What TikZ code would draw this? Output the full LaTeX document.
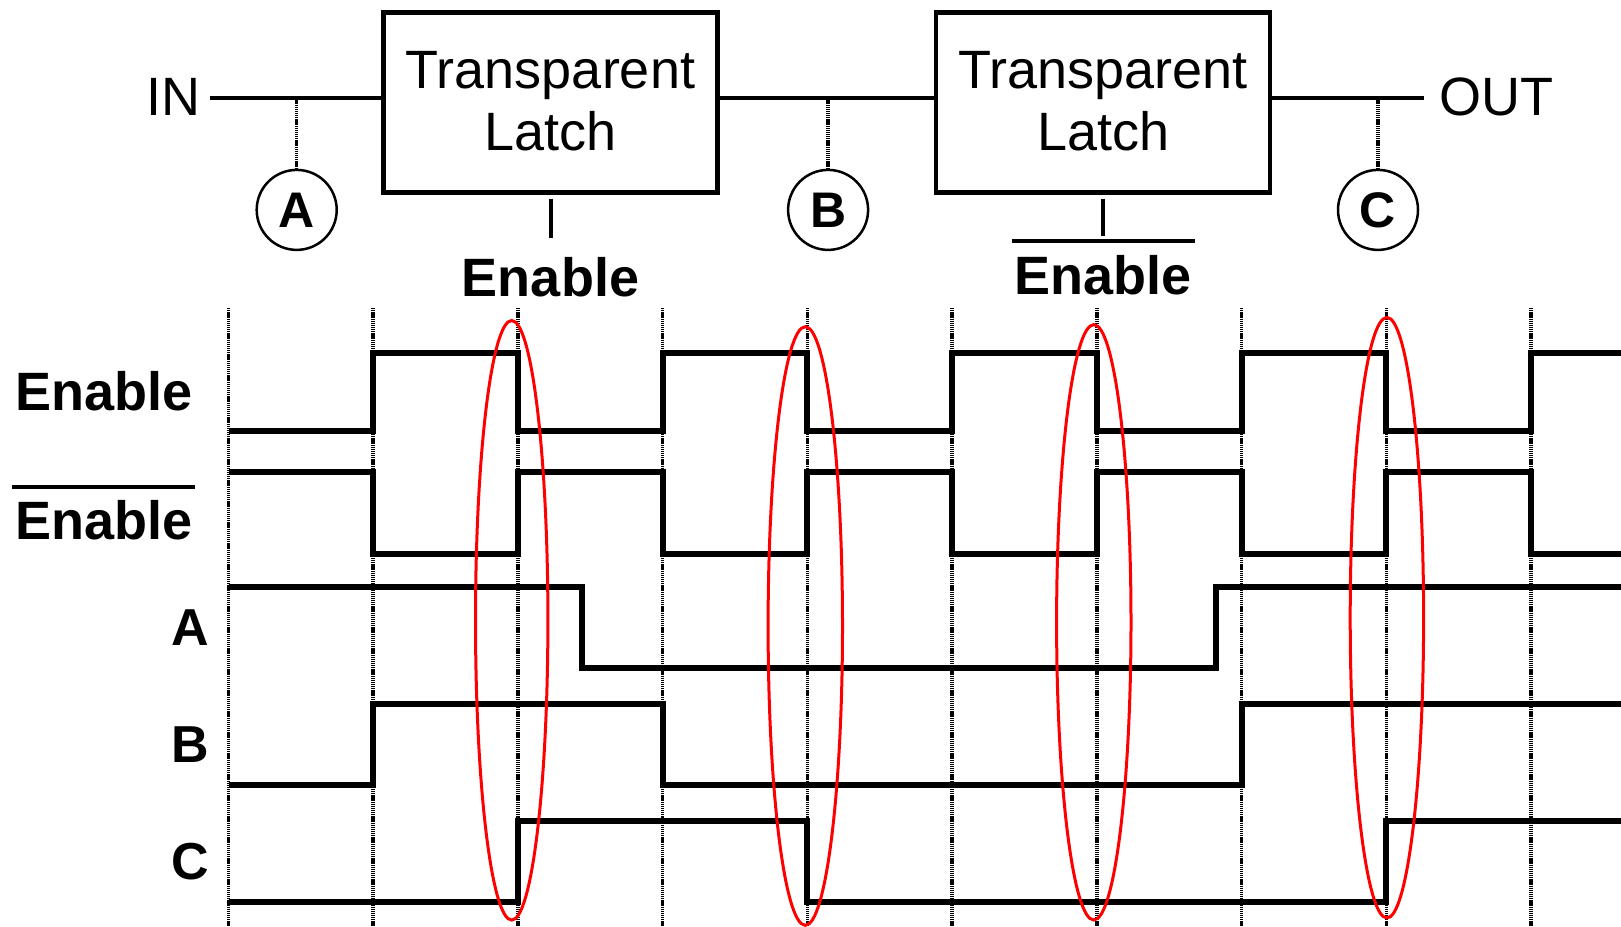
\documentclass[tikz,border=0pt]{standalone}
\usepackage{fontspec}
\setmainfont{Liberation Sans}
\begin{document}
\begin{tikzpicture}[x=1pt,y=-1pt,
  txt/.style={inner sep=0pt, font=\fontsize{54}{62}\selectfont},
  btxt/.style={inner sep=0pt, font=\fontsize{54}{62}\selectfont\bfseries},
  sig/.style={inner sep=0pt, font=\fontsize{52}{60}\selectfont\bfseries},
  wire/.style={line width=4pt},
  latchbox/.style={draw, line width=4.5pt, minimum width=334pt, minimum height=180pt, inner sep=0pt},
  probe/.style={line width=3.5pt, dash pattern=on 1.3pt off 0.8pt},
  tap/.style={draw, circle, line width=2.5pt, minimum size=80pt, inner sep=0pt, font=\fontsize{50}{50}\selectfont\bfseries},
  wave/.style={line width=6pt, line join=miter},
  ring/.style={draw=red, line width=3pt}]
\useasboundingbox (0,0) rectangle (1621,926);

% ---------- circuit ----------
\node[txt] (in) at (173.5,96.5) {IN};
\node[txt] (out) at (1496.4,96.5) {OUT};
\node[latchbox] (latch1) at (550.5,102.35) {};
\node[latchbox] (latch2) at (1103.1,102.35) {};
\node[txt, anchor=base] (l1a) at (550.5,88.7) {Transparent};
\node[txt, anchor=base] (l1b) at (550.5,150.7) {Latch};
\node[txt, anchor=base] (l2a) at (1103.1,88.7) {Transparent};
\node[txt, anchor=base] (l2b) at (1103.1,150.7) {Latch};

\coordinate (inend) at (209.9,98.2);
\coordinate (outend) at (1423.6,98.2);
\coordinate (tapa) at (296.7,98.2);
\coordinate (tapb) at (828.1,98.2);
\coordinate (tapc) at (1378,98.2);

\draw[wire] (inend) -- (inend -| latch1.west);
\draw[wire] (inend -| latch1.east) -- (inend -| latch2.west);
\draw[wire] (inend -| latch2.east) -- (outend);

\node[tap] (ra) at (296.7,209.9) {A};
\node[tap] (rb) at (828.1,209.9) {B};
\node[tap] (rc) at (1378,209.9) {C};
\draw[probe] (tapa) -- (ra.north);
\draw[probe] (tapb) -- (rb.north);
\draw[probe] (tapc) -- (rc.north);

% enable inputs
\node[btxt] (en1) at (550.5,277) {Enable};
\node[btxt] (en2) at (1103.1,275) {Enable};
\coordinate (en1top) at (550.5,237.8);
\coordinate (en2top) at (1103.1,235.7);
\draw[wire] ([yshift=-4pt]latch1.south) -- (en1top);
\draw[wire] ([yshift=-4pt]latch2.south) -- (en2top);
\draw[wire] (1012,240.9) -- (1195,240.9);

% ---------- timing diagram ----------
\node[btxt] (lenable) at (104.4,390.8) {Enable};
\node[btxt] (lenablebar) at (104.4,520) {Enable};
\draw[wire] (12.4,487) -- (195.4,487);
\node[sig] (la) at (190.2,627.5) {A};
\node[sig] (lb) at (190.2,744.3) {B};
\node[sig] (lc) at (190.2,861.2) {C};

% clock edge guides
\foreach \x in {228.5,373.2,518.0,662.7,807.4,952.2,1096.9,1241.6,1386.3,1531.1}
  \draw[probe] (\x,308) -- (\x,926);

% Enable
\draw[wave] (228.5,431.1) -- (373.2,431.1) -- (373.2,352.5) -- (518,352.5) -- (518,431.1)
  -- (662.7,431.1) -- (662.7,352.5) -- (807.4,352.5) -- (807.4,431.1) -- (952.2,431.1)
  -- (952.2,352.5) -- (1096.9,352.5) -- (1096.9,431.1) -- (1241.6,431.1) -- (1241.6,352.5)
  -- (1386.3,352.5) -- (1386.3,431.1) -- (1531.1,431.1) -- (1531.1,352.5) -- (1625,352.5);
% Enable bar
\draw[wave] (228.5,472.4) -- (373.2,472.4) -- (373.2,554.1) -- (518,554.1) -- (518,472.4)
  -- (662.7,472.4) -- (662.7,554.1) -- (807.4,554.1) -- (807.4,472.4) -- (952.2,472.4)
  -- (952.2,554.1) -- (1096.9,554.1) -- (1096.9,472.4) -- (1241.6,472.4) -- (1241.6,554.1)
  -- (1386.3,554.1) -- (1386.3,472.4) -- (1531.1,472.4) -- (1531.1,554.1) -- (1625,554.1);
% A
\draw[wave] (228.5,587.2) -- (582,587.2) -- (582,667.8) -- (1215.7,667.8) -- (1215.7,587.2) -- (1625,587.2);
% B
\draw[wave] (228.5,784.7) -- (373.2,784.7) -- (373.2,704) -- (662.7,704) -- (662.7,784.7)
  -- (1241.6,784.7) -- (1241.6,704) -- (1625,704);
% C
\draw[wave] (228.5,901.5) -- (518,901.5) -- (518,820.8) -- (807.4,820.8) -- (807.4,901.5)
  -- (1386.3,901.5) -- (1386.3,820.8) -- (1625,820.8);

% highlighted sampling edges
\draw[ring] (511.7,620.3) ellipse [x radius=36.2, y radius=299.8];
\draw[ring] (805.3,626) ellipse [x radius=37.2, y radius=299.3];
\draw[ring] (1093.8,622.3) ellipse [x radius=37.2, y radius=297.7];
\draw[ring] (1386.9,617.7) ellipse [x radius=36.7, y radius=300.3];
\end{tikzpicture}
\end{document}
